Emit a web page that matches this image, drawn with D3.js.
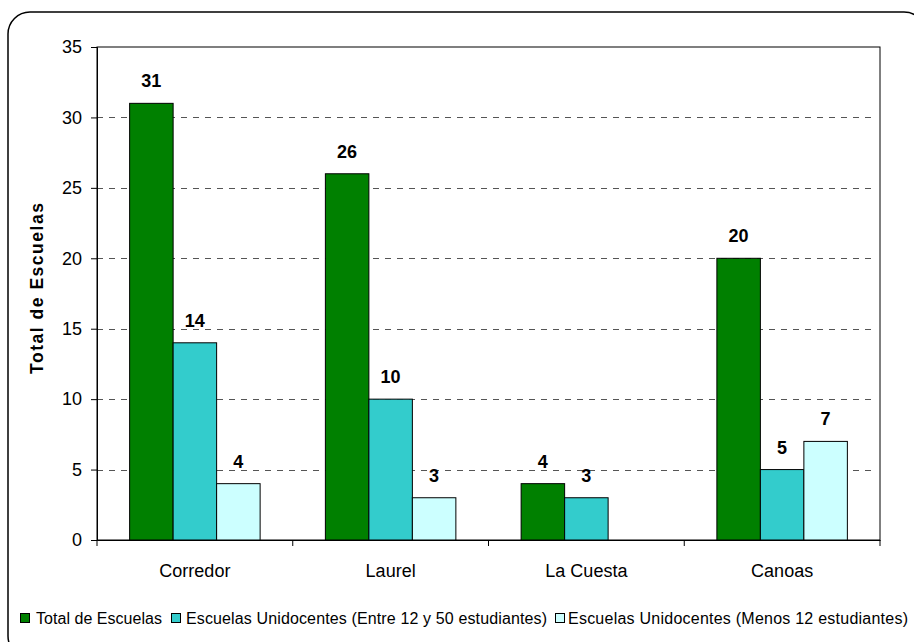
<!DOCTYPE html>
<html><head><meta charset="utf-8">
<script src="https://cdn.jsdelivr.net/npm/d3@7"></script>
<style>body{margin:0;background:#fff}svg{display:block;font-family:"Liberation Sans",Arial,sans-serif}</style>
</head><body>
<svg id="c" width="914" height="642"></svg>
<script>
const categories = ["Corredor", "Laurel", "La Cuesta", "Canoas"];
const seriesNames = ["Total de Escuelas", "Escuelas Unidocentes (Entre 12 y 50 estudiantes)", "Escuelas Unidocentes (Menos 12 estudiantes)"];
const totalEscuelas = [31, 26, 4, 20];
const unidocentes12a50 = [14, 10, 3, 5];
const unidocentesMenos12 = [4, 3, 0, 7];
const yTicks = [0, 5, 10, 15, 20, 25, 30, 35];
const colors = ["#008000", "#33CCCC", "#CCFFFF"];
const seriesValues = [totalEscuelas, unidocentes12a50, unidocentesMenos12];

const svg = d3.select("#c");
svg.append("rect").attr("x", 8).attr("y", 12).attr("width", 918).attr("height", 646)
  .attr("rx", 22).attr("fill", "none").attr("stroke", "#000").attr("stroke-width", 1.5);

const m = {l: 97, t: 47, r: 880, b: 540};
const x = d3.scaleBand().domain(categories).range([m.l, m.r]).paddingInner(0).paddingOuter(0);
const y = d3.scaleLinear().domain([0, 35]).range([m.b, m.t]);
const groupPad = 0.1667;
const xs = d3.scaleBand().domain(d3.range(3)).range([x.bandwidth()*groupPad, x.bandwidth()*(1-groupPad)]).padding(0);

const g = svg.append("g");
g.append("rect").attr("x", m.l).attr("y", m.t).attr("width", m.r - m.l).attr("height", m.b - m.t)
  .attr("fill", "none").attr("stroke", "#000").attr("stroke-width", 1);
g.selectAll("line.grid").data(yTicks.filter(d => d > 0 && d < 35)).enter().append("line")
  .attr("x1", m.l).attr("x2", m.r - 6).attr("y1", d => Math.round(y(d)) + 0.5).attr("y2", d => Math.round(y(d)) + 0.5)
  .attr("stroke", "#555").attr("stroke-width", 1).attr("stroke-dasharray", "6,6");

categories.forEach((c, ci) => {
  seriesValues.forEach((vals, si) => {
    const v = vals[ci];
    if (v <= 0) return;
    const bx = x(c) + xs(si);
    g.append("rect").attr("x", bx).attr("y", y(v)).attr("width", xs.bandwidth()).attr("height", y(0) - y(v))
      .attr("fill", colors[si]).attr("stroke", "#000").attr("stroke-width", 1);
    g.append("text").attr("x", bx + xs.bandwidth()/2).attr("y", y(v) - 16)
      .attr("text-anchor", "middle").attr("font-weight", "bold").attr("font-size", 18).text(v);
  });
});

const yAxis = d3.axisLeft(y).tickValues(yTicks).tickSize(6).tickPadding(9);
const ya = svg.append("g").attr("transform", `translate(${m.l},0)`).call(yAxis);
ya.select(".domain").attr("stroke", "#000");
ya.selectAll("text").attr("font-size", 18).attr("font-family", "Liberation Sans, Arial, sans-serif").attr("fill", "#000");

const xAxis = d3.axisBottom(x).tickSize(0).tickPadding(24);
const xa = svg.append("g").attr("transform", `translate(0,${m.b})`).call(xAxis);
xa.select(".domain").attr("stroke", "#000");
xa.selectAll("text").attr("font-size", 18).attr("font-family", "Liberation Sans, Arial, sans-serif").attr("fill", "#000");
xa.selectAll("line.sep").data(d3.range(categories.length + 1)).enter().append("line")
  .attr("x1", i => m.l + i * x.bandwidth()).attr("x2", i => m.l + i * x.bandwidth())
  .attr("y1", 0).attr("y2", 6).attr("stroke", "#000");

svg.append("text").attr("transform", `translate(43,${(m.t+m.b)/2 - 5}) rotate(-90)`)
  .attr("text-anchor", "middle").attr("font-weight", "bold").attr("font-size", 17.5)
  .attr("textLength", 171).attr("lengthAdjust", "spacing").text("Total de Escuelas");

// legend (square/text positions and text widths matched to the reference layout)
const legendSquares = [20, 171, 555];
const legendTextStarts = [36, 186, 568];
const legendWidths = [126, 361, 340];
const leg = svg.append("g");
const ly = 624;
seriesNames.forEach((n, i) => {
  leg.append("rect").attr("x", legendSquares[i] + 0.5).attr("y", ly - 10.5).attr("width", 9).attr("height", 9)
    .attr("fill", colors[i]).attr("stroke", "#000").attr("stroke-width", 1);
  leg.append("text").attr("x", legendTextStarts[i]).attr("y", ly).attr("font-size", 16)
    .attr("textLength", legendWidths[i]).attr("lengthAdjust", "spacing").text(n);
});
</script>
</body></html>
